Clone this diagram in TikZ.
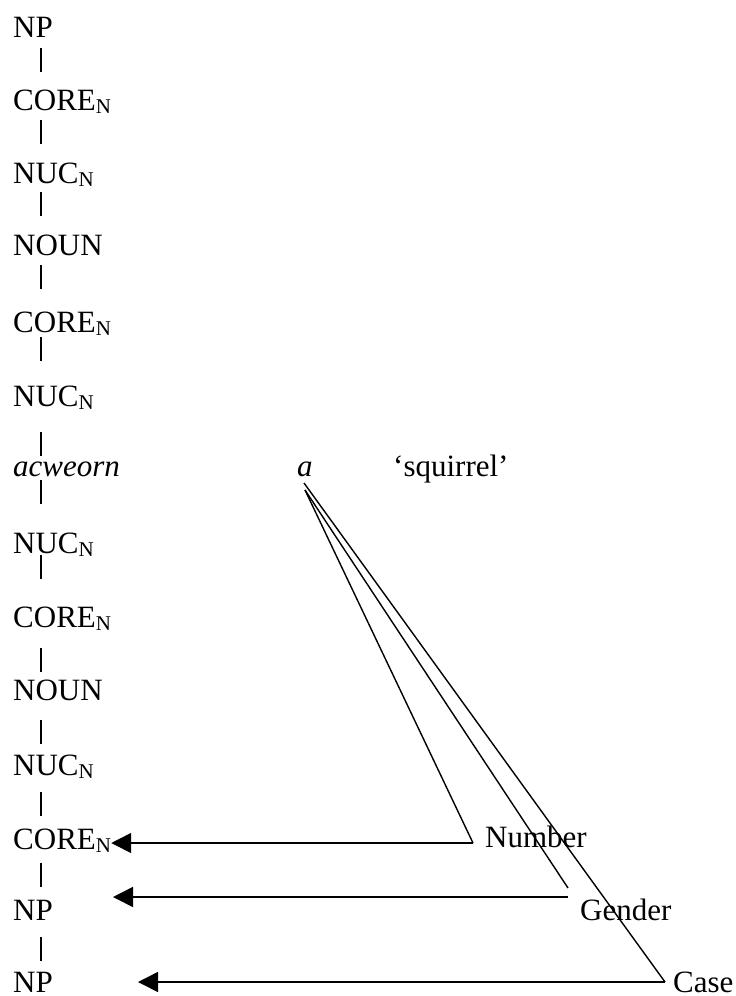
\documentclass[tikz,border=0pt]{standalone}
\usepackage{fontspec}
\setmainfont{Liberation Serif}
\usepackage{tikz}
\usetikzlibrary{arrows.meta,calc}
\newcommand{\subN}{\raisebox{-3pt}{\fontsize{21}{21}\selectfont N}}

\begin{document}
\begin{tikzpicture}[x=1pt, y=-1pt, every node/.style={font=\fontsize{31}{31}\selectfont, inner sep=0pt, anchor=base west}, branch/.style={line width=1.5pt}, feat/.style={line width=1.4pt}, agree/.style={line width=1.5pt,-{Triangle[length=20pt,width=20pt]}}]
    \useasboundingbox (0,0) rectangle (736,996);
    \coordinate (spine) at (41,0);
    \foreach \n/\y/\lab in {np1/37/NP, core1/110/CORE\subN, nuc1/183/NUC\subN, noun1/255/NOUN, core2/332/CORE\subN, nuc2/406/NUC\subN, word/476/\textit{acweorn}, nuc3/553/NUC\subN, core3/627/CORE\subN, noun2/700/NOUN, nuc4/775/NUC\subN, core4/849/CORE\subN, np2/920/NP, np3/992/NP}{
      \node (\n) at (13,\y) {\lab};
    }
    \foreach \u/\d in {np1/11, core1/10, nuc1/9, noun1/10, core2/5, nuc2/26, word/4, nuc3/2, core3/21, noun2/20, nuc4/17, core4/14, np2/17}{
      \draw[branch] ($(spine |- \u.base)+(0,\d)$) -- ++(0,24);
    }
    \node (infl) at (297,476) {\textit{a}};
    \node (gloss) at (393,476) {‘squirrel’};
    \node (num) at (485,847) {Number};
    \node (gen) at (580,920) {Gender};
    \node (cas) at (673,992) {Case};
    \coordinate (apexA) at (304,483);
    \coordinate (apexB) at (305,490);
    \coordinate (numC) at (473,843);
    \coordinate (genC) at (568,888);
    \coordinate (genS) at (568,897);
    \coordinate (genT) at (113,897);
    \coordinate (casC) at (665,982);
    \coordinate (casT) at (138,982);
    \draw[feat] (apexB) -- (numC);
    \draw[agree] (numC) -- (numC -| core4.east);
    \draw[feat] (apexB) -- (genC);
    \draw[agree] (genS) -- (genT);
    \draw[feat] (apexA) -- (casC);
    \draw[agree] (casC) -- (casT);
\end{tikzpicture}
\end{document}
